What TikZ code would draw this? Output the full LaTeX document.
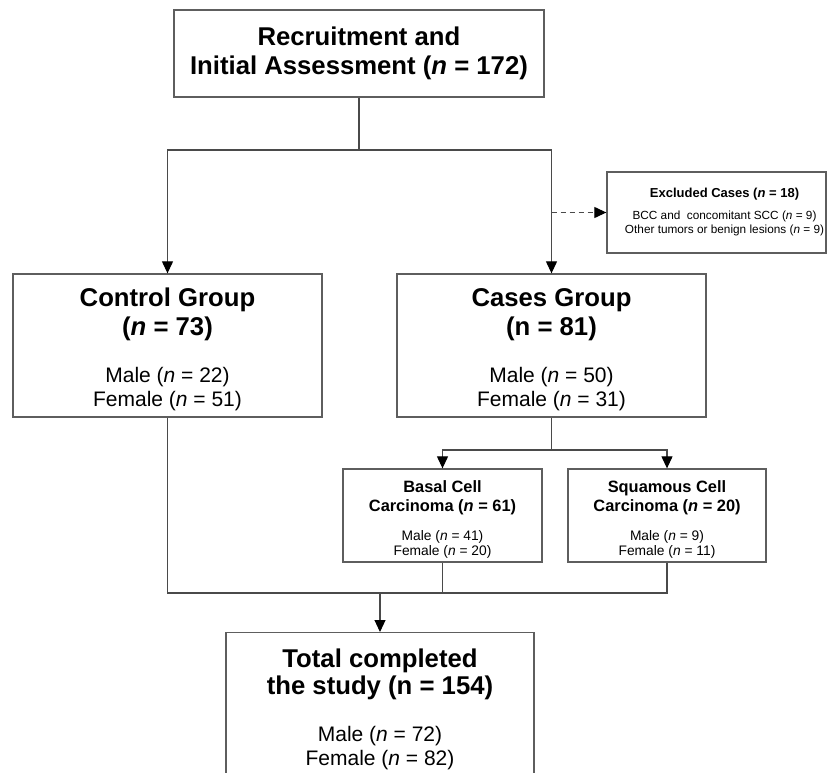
\documentclass[tikz,border=0pt]{standalone}
\usepackage{fontspec}
\setmainfont{Liberation Sans}
\usetikzlibrary{arrows.meta,calc}
\definecolor{mBoxGray}{HTML}{5E5E5E}
\definecolor{mLineGray}{HTML}{4A4A4A}
\newcommand{\hbig}{\bfseries\fontsize{25.7}{29}\selectfont\lineskiplimit=-100pt}
\newcommand{\bbig}{\fontsize{21}{24}\selectfont\lineskiplimit=-100pt}
\newcommand{\hsmall}{\bfseries\fontsize{16.4}{19}\selectfont}
\newcommand{\bsmall}{\fontsize{13.8}{15.5}\selectfont\lineskiplimit=-100pt}
\newcommand{\hexcl}{\bfseries\fontsize{13}{15}\selectfont}
\newcommand{\bexcl}{\fontsize{11.8}{14}\selectfont\lineskiplimit=-100pt}
\newcommand{\exind}{\hspace*{16pt}}
\tikzset{
 flowbox/.style={draw=mBoxGray, line width=1.3pt, align=center, inner xsep=0pt, inner ysep=0pt},
 flowline/.style={draw=mLineGray, line width=1.1pt},
 flowarrow/.style={flowline, -{Triangle[length=12pt,width=11pt,color=black]}},
}

\begin{document}
\begin{tikzpicture}[x=1pt,y=-1pt]
\path[use as bounding box, clip] (0,0) rectangle (827,773);
\fill[white] (0,0) rectangle (827,773);
\node[flowbox, font=\hbig, minimum width=370pt, minimum height=87pt] (recruit) at (359,53.5)
 {Recruitment and\\Initial Assessment (\textit{n} = 172)};
\node[flowbox, font=\bbig, minimum width=309pt, minimum height=143pt] (control) at (167.5,345.5)
 {\rule{0pt}{27pt}{\hbig Control Group}\\[5pt]{\hbig (\textit{n} = 73)}\\[23pt]Male (\textit{n} = 22)\\Female (\textit{n} = 51)};
\node[flowbox, font=\bbig, minimum width=309pt, minimum height=143pt] (cases) at (551.5,345.5)
 {\rule{0pt}{27pt}{\hbig Cases Group}\\[5pt]{\hbig (n = 81)}\\[23pt]Male (\textit{n} = 50)\\Female (\textit{n} = 31)};
\node[flowbox, font=\bexcl, minimum width=219pt, minimum height=81pt] (excluded) at (716.5,212.5)
 {\exind{\hexcl Excluded Cases (\textit{n} = 18)}\\[8pt]\exind BCC and\ \ concomitant SCC (\textit{n} = 9)\\\exind Other tumors or benign lesions (\textit{n} = 9)};
\node[flowbox, font=\bsmall, minimum width=199pt, minimum height=93pt] (bcc) at (442.5,515.5)
 {\rule{0pt}{20pt}{\hsmall Basal Cell}\\[3.5pt]{\hsmall Carcinoma (\textit{n} = 61)}\\[13.5pt]Male (\textit{n} = 41)\\Female (\textit{n} = 20)};
\node[flowbox, font=\bsmall, minimum width=198pt, minimum height=93pt] (scc) at (667,515.5)
 {\rule{0pt}{20pt}{\hsmall Squamous Cell}\\[3.5pt]{\hsmall Carcinoma (\textit{n} = 20)}\\[13.5pt]Male (\textit{n} = 9)\\Female (\textit{n} = 11)};
\node[flowbox, font=\bbig, minimum width=308pt, inner ysep=16.5pt, anchor=north] (total) at (380,632)
 {{\hbig Total completed}\\[2.5pt]{\hbig the study (n = 154)}\\[23pt]Male (\textit{n} = 72)\\Female (\textit{n} = 82)};
\coordinate (topfork) at (recruit.south |- 0,150);
\coordinate (exfork) at (cases.north |- excluded.west);
\coordinate (casefork) at (cases.south |- 0,450);
\coordinate (join) at (total.north |- 0,593);
\draw[flowline] (recruit.south) -- (topfork);
\draw[flowarrow] (topfork) -| (control.north);
\draw[flowarrow] (topfork) -| (cases.north);
\draw[flowarrow, dash pattern=on 5pt off 4pt] (exfork) -- (excluded.west);
\draw[flowline] (cases.south) -- (casefork);
\draw[flowarrow] (casefork) -| (bcc.north);
\draw[flowarrow] (casefork) -| (scc.north);
\draw[flowline] (control.south) |- (join);
\draw[flowline] (scc.south) |- (join);
\draw[flowline] (bcc.south) -- (bcc.south |- join);
\draw[flowarrow] (join) -- (total.north);
\end{tikzpicture}
\end{document}
